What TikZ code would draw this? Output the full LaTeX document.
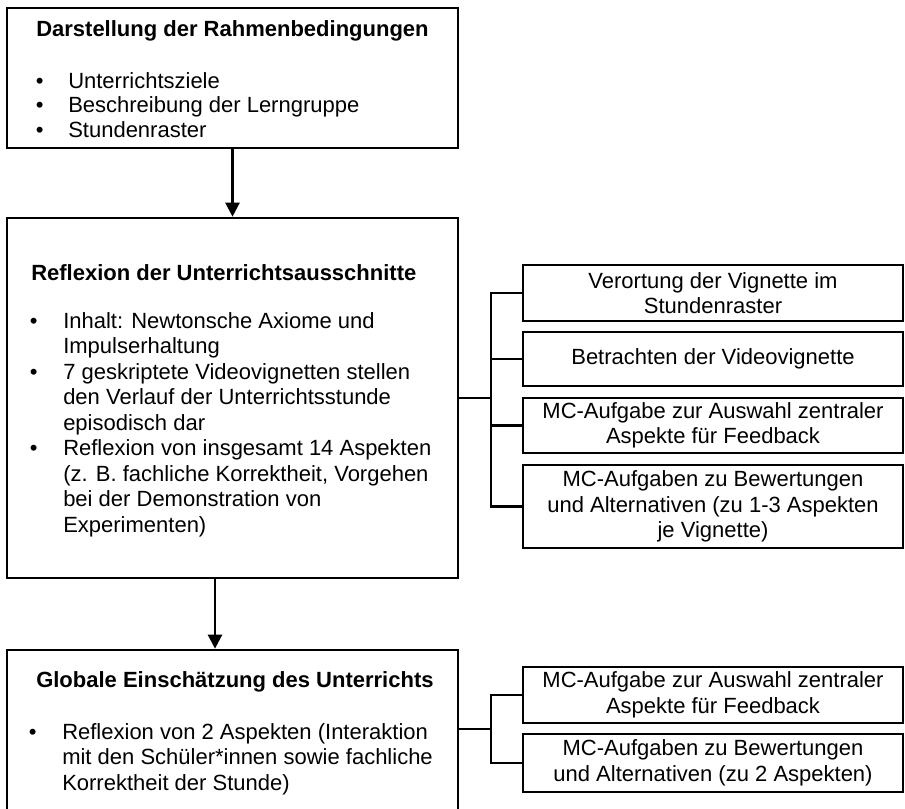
\documentclass[tikz,border=0pt]{standalone}
\usepackage{fontspec}
\setmainfont{Liberation Sans}
\usetikzlibrary{arrows.meta,fit}
\newcommand{\pxu}{0.75pt}
\newcommand{\fs}{\fontsize{16.5pt}{19.1pt}\selectfont}
\begin{document}
\begin{tikzpicture}[x=0.75pt,y=-0.75pt,
  box/.style={draw, line width=2pt, inner sep=0pt},
  rbox/.style={draw, line width=2pt, inner sep=0pt, align=center, minimum width=380*\pxu, font=\fs},
  conn/.style={line width=1.8pt},
  arr/.style={conn, -{Triangle[width=10.5pt,length=10.5pt]}},
  txt/.style={anchor=base west, inner sep=0pt, font=\fs},
  ttl/.style={anchor=base west, inner sep=0pt, font=\fs\bfseries}]
\useasboundingbox (0,0) rectangle (905,808);
\clip (0,0) rectangle (905,808);

% main boxes
\node[box, fit={(7,8) (458,148)}] (b1) {};
\node[box, fit={(7,218) (458,578)}] (b2) {};
\node[box, fit={(7,650) (458,812)}] (b3) {};

% box 1 text
\node[ttl] (b1title) at (36,36) {Darstellung der Rahmenbedingungen};
\foreach \y/\t [count=\i] in {88/{Unterrichtsziele}, 112.5/{Beschreibung der Lerngruppe}, 137/{Stundenraster}}{
  \node[txt] (b1dot\i) at (35.5,\y) {•};
  \node[txt] (b1line\i) at (68,\y) {\t};
}

% box 2 text
\node[ttl] (b2title) at (31,280) {Reflexion der Unterrichtsausschnitte};
\foreach \y [count=\i] in {328,379,455.5}{
  \node[txt] (b2dot\i) at (29.5,\y) {•};
}
\foreach \t [count=\i] in {{Inhalt: Newtonsche Axiome und}, {Impulserhaltung}, {7 geskriptete Videovignetten stellen}, {den Verlauf der Unterrichtsstunde}, {episodisch dar}, {Reflexion von insgesamt 14 Aspekten}, {(z. B. fachliche Korrektheit, Vorgehen}, {bei der Demonstration von}, {Experimenten)}}{
  \node[txt] (b2line\i) at (63,{302.5+25.5*\i}) {\t};
}

% box 3 text
\node[ttl] (b3title) at (36,687) {Globale Einschätzung des Unterrichts};
\node[txt] (b3dot1) at (28.5,739) {•};
\foreach \t [count=\i] in {{Reflexion von 2 Aspekten (Interaktion}, {mit den Schüler*innen sowie fachliche}, {Korrektheit der Stunde)}}{
  \node[txt] (b3line\i) at (62,{713.5+25.5*\i}) {\t};
}

% right boxes
\node[rbox, minimum height=56*\pxu] (rA) at (713,293) {Verortung der Vignette im\\Stundenraster};
\node[rbox, minimum height=54*\pxu] (rB) at (713,359) {Betrachten der Videovignette};
\node[rbox, minimum height=55*\pxu] (rC) at (713,425.5) {MC-Aufgabe zur Auswahl zentraler\\Aspekte für Feedback};
\node[rbox, minimum height=83*\pxu] (rD) at (713,506.5) {MC-Aufgaben zu Bewertungen\\und Alternativen (zu 1-3 Aspekten\\je Vignette)};
\node[rbox, minimum height=56*\pxu] (rE) at (713,695) {MC-Aufgabe zur Auswahl zentraler\\Aspekte für Feedback};
\node[rbox, minimum height=58*\pxu] (rF) at (713,763) {MC-Aufgaben zu Bewertungen\\und Alternativen (zu 2 Aspekten)};

% arrows
\draw[arr] (b1.south) -- (b2.north);
\draw[arr] ([xshift=-17.5*\pxu]b2.south) -- ([xshift=-17.5*\pxu]b3.north);

% brackets
\coordinate (jx) at (491,0);
\coordinate (jB) at (491,729);
\draw[conn] (rA.west) -- (rA.west -| jx) |- (rD.west);
\draw[conn] (rB.west) -- (rB.west -| jx);
\draw[conn] (rC.west) -- (rC.west -| jx);
\draw[conn] (b2.east) -- (b2.east -| jx);
\draw[conn] (rE.west) -- (rE.west -| jx) |- (rF.west);
\draw[conn] (b3.east |- jB) -- (jB);
\end{tikzpicture}
\end{document}
